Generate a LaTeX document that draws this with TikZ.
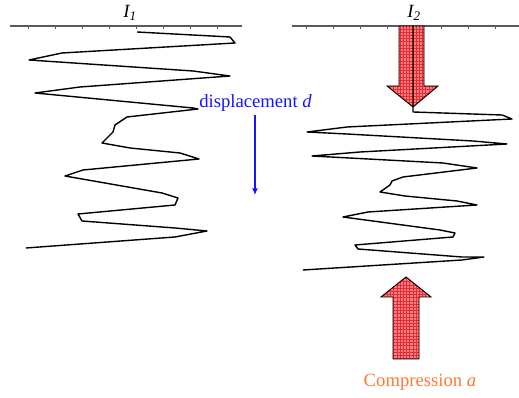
\documentclass[tikz,border=0pt]{standalone}
\usepackage{fontspec}
\setmainfont{Liberation Serif}
\usetikzlibrary{arrows.meta}
\definecolor{dispblue}{RGB}{20,20,255}
\definecolor{comporange}{RGB}{255,120,50}
\definecolor{arrowfill}{RGB}{255,125,125}
\definecolor{arrowgrid}{RGB}{225,45,55}
\definecolor{axisgray}{RGB}{90,90,90}
\tikzset{
  axisline/.style={draw=axisgray, line width=0.8pt},
  tickline/.style={draw=axisgray, line width=0.6pt},
  zigzag/.style={draw=black, line width=1.05pt, line join=round},
  fatarrow/.style={draw=black, line width=0.7pt},
  lbl/.style={inner sep=0pt, font=\fontsize{12}{14}\selectfont},
}
\begin{document}
\begin{tikzpicture}[x=0.75pt,y=-0.75pt]
\useasboundingbox (0,0) rectangle (519,398);
% axes
\coordinate (a1l) at (10,26); \coordinate (a1r) at (242,26);
\coordinate (a2l) at (292,26); \coordinate (a2r) at (519,26);
\draw[axisline] (a1l) -- (a1r);
\draw[axisline] (a2l) -- (a2r);
\foreach \x in {28,55,82,109,136,163,190,217}{\draw[tickline] (\x,26) -- (\x,29.5);}
\foreach \x in {306,333,360,387,413,441,468,495}{\draw[tickline] (\x,26) -- (\x,29.5);}
\node[lbl, font=\fontsize{14}{16}\selectfont\itshape] (i1) at (130,13) {I\textsubscript{1}};
\node[lbl, font=\fontsize{14}{16}\selectfont\itshape] (i2) at (414,13) {I\textsubscript{2}};
% down arrow
\def\downarrowpath{(399,26) -- (424,26) -- (424,86) -- (438,86) -- (413,107) -- (387,86) -- (399,86) -- cycle}
\fill[arrowfill] \downarrowpath;
\begin{scope}
\clip \downarrowpath;
\draw[arrowgrid, line width=0.3pt, step=2.4pt] (380,20) grid (445,110);
\end{scope}
\draw[fatarrow] \downarrowpath;
% up arrow
\def\uparrowpath{(406,277) -- (431,297) -- (419,297) -- (419,359) -- (393,359) -- (393,297) -- (381,297) -- cycle}
\fill[arrowfill] \uparrowpath;
\begin{scope}
\clip \uparrowpath;
\draw[arrowgrid, line width=0.3pt, step=2.4pt] (375,270) grid (440,365);
\end{scope}
\draw[fatarrow] \uparrowpath;
% left trace
\draw[zigzag] (137,32) -- (230,37) -- (235,43) -- (62,53) -- (29,60) -- (193,71) -- (230,76) -- (80,87) -- (35,93) -- (193,108) -- (198,109) -- (127,117) -- (115,125) -- (113,132) -- (102,143) -- (130,148) -- (180,153) -- (199,159) -- (83,170) -- (65,176) -- (162,193) -- (178,198) -- (175,205) -- (78,214) -- (82,221) -- (175,228) -- (207,231) -- (175,237) -- (26,248);
% right trace
\draw[zigzag] (413,26) -- (413,112) -- (502,115) -- (512,119) -- (347,127) -- (307,132) -- (347,134) -- (473,141) -- (507,144) -- (360,152) -- (312,156) -- (443,163) -- (477,168) -- (403,177) -- (392,181) -- (390,185) -- (380,192) -- (405,196) -- (457,201) -- (477,205) -- (368,212) -- (343,217) -- (440,230) -- (455,233) -- (453,237) -- (355,245) -- (358,249) -- (462,257) -- (484,257) -- (462,260) -- (303,270);
% displacement label and arrow
\node[lbl, text=dispblue, font=\fontsize{14}{16}\selectfont, anchor=west] (disp) at (199,103) {displacement \textit{d}};
\coordinate (dtop) at (255,115);
\coordinate (dbot) at (255,195);
\draw[dispblue, line width=1.2pt, -{Latex[length=5pt,width=4.5pt]}] (dtop) -- (dbot);
% compression label
\node[lbl, text=comporange, font=\fontsize{14}{16}\selectfont] (comp) at (420,382) {Compression \textit{a}};
\end{tikzpicture}
\end{document}
